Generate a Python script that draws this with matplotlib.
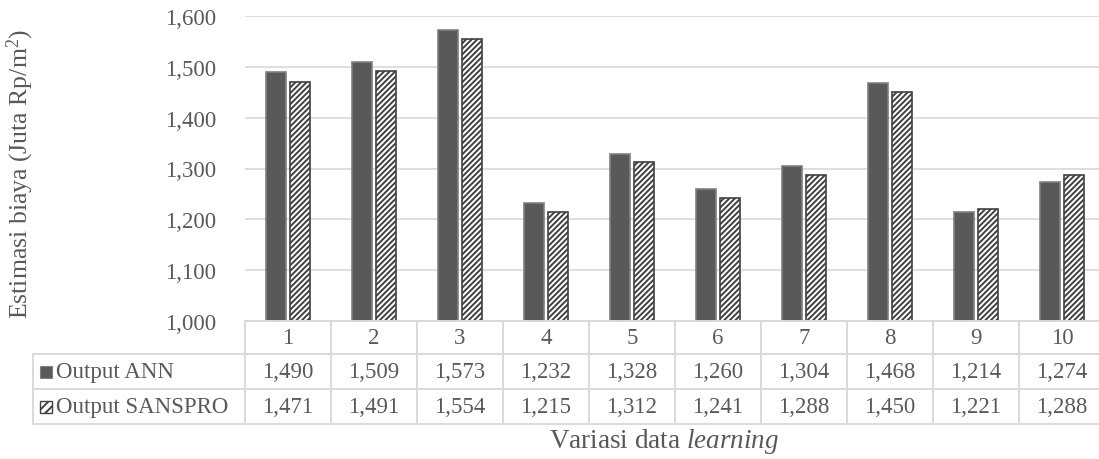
import matplotlib
matplotlib.use("Agg")
import matplotlib.pyplot as plt
import matplotlib.transforms as mtransforms
from matplotlib.patches import Rectangle
from matplotlib.lines import Line2D
import numpy as np

# Data
categories = ["1", "2", "3", "4", "5", "6", "7", "8", "9", "10"]
series_names = ["Output ANN", "Output SANSPRO"]
ann_values = [1490, 1509, 1573, 1232, 1328, 1260, 1304, 1468, 1214, 1274]
sanspro_values = [1471, 1491, 1554, 1215, 1312, 1241, 1288, 1450, 1221, 1288]
y_ticks = [1000, 1100, 1200, 1300, 1400, 1500, 1600]

W, H = 1099, 460
TEXT = "#595959"
GRID = "#d9d9d9"
DARK = "#595959"
HATCH = "#404040"
FS = 16.5

plt.rcParams["font.family"] = ["Liberation Serif", "DejaVu Serif"]
plt.rcParams["mathtext.fontset"] = "custom"
plt.rcParams["mathtext.rm"] = "Liberation Serif"
plt.rcParams["mathtext.it"] = "Liberation Serif:italic"
plt.rcParams["hatch.linewidth"] = 1.4


def fx(x):
    return x / W


def fy(y):
    return 1 - y / H


fig = plt.figure(figsize=(W / 100, H / 100), dpi=100)
left, right, top, bottom = 245, 1105, 17, 322
ax = fig.add_axes([fx(left), fy(bottom), fx(right - left), (bottom - top) / H])

x = np.arange(len(categories))
bw = 0.235
off = 0.143
ax.bar(x - off, ann_values, width=bw, color=DARK, edgecolor="#808080",
       linewidth=1.2, zorder=3)
ax.bar(x + off, sanspro_values, width=bw, color="white", edgecolor=HATCH,
       hatch="//////", linewidth=1.2, zorder=3)

ax.set_xlim(-0.5, len(categories) - 0.5)
ax.set_ylim(1000, 1600)
ax.set_yticks(y_ticks)
ax.set_yticklabels([f"{v:,}" for v in y_ticks], fontsize=FS, color=TEXT)
ax.tick_params(axis="y", length=0, pad=21)
ax.set_xticks([])
ax.grid(axis="y", color=GRID, linewidth=1.2, zorder=0)
for s in ax.spines.values():
    s.set_visible(False)

# Data table under the plot
row_lines = [322, 355, 390, 425]
row_centers = [(row_lines[i] + row_lines[i + 1]) / 2 for i in range(3)]
tbl = mtransforms.blended_transform_factory(ax.transData, fig.transFigure)
lw = 1.4

# horizontal lines across the category columns
fig.add_artist(Line2D([fx(left), fx(right)], [fy(row_lines[0])] * 2,
                      color=GRID, lw=lw, transform=fig.transFigure))
for yl in row_lines[1:]:
    fig.add_artist(Line2D([fx(33), fx(right)], [fy(yl)] * 2,
                          color=GRID, lw=lw, transform=fig.transFigure))
# vertical lines
for xb in np.arange(-0.5, len(categories), 1.0):
    fig.add_artist(Line2D([xb, xb], [fy(row_lines[0]), fy(row_lines[-1])],
                          color=GRID, lw=lw, transform=tbl))
fig.add_artist(Line2D([fx(33), fx(33)], [fy(row_lines[1]), fy(row_lines[-1])],
                      color=GRID, lw=lw, transform=fig.transFigure))

for i, c in enumerate(categories):
    fig.text(x[i], fy(row_centers[0]), c, transform=tbl, ha="center",
             va="center", fontsize=FS, color=TEXT)
    fig.text(x[i], fy(row_centers[1]), f"{ann_values[i]:,}", transform=tbl,
             ha="center", va="center", fontsize=FS, color=TEXT)
    fig.text(x[i], fy(row_centers[2]), f"{sanspro_values[i]:,}", transform=tbl,
             ha="center", va="center", fontsize=FS, color=TEXT)

# legend keys in the table's first column
sq = 12
fig.add_artist(Rectangle((fx(39.5), fy(row_centers[1] + sq / 2)), fx(sq), sq / H,
                         facecolor=DARK, edgecolor="#808080", lw=0.8,
                         transform=fig.transFigure))
fig.add_artist(Rectangle((fx(39.5), fy(row_centers[2] + sq / 2)), fx(sq), sq / H,
                         facecolor="white", edgecolor=HATCH, hatch="////", lw=1.0,
                         transform=fig.transFigure))
fig.text(fx(56), fy(row_centers[1]), series_names[0], ha="left", va="center",
         fontsize=FS, color=TEXT)
fig.text(fx(56), fy(row_centers[2]), series_names[1], ha="left", va="center",
         fontsize=FS, color=TEXT)

# axis titles
fig.text(fx(664), fy(442), r"Variasi data $\mathit{learning}$", ha="center",
         va="center", fontsize=19.5, color=TEXT)
fig.text(fx(20), fy(174), r"Estimasi biaya (Juta Rp/m$^{2}$)", ha="center",
         va="center", rotation=90, fontsize=18.5, color=TEXT)

fig.savefig("out.png", dpi=100)
